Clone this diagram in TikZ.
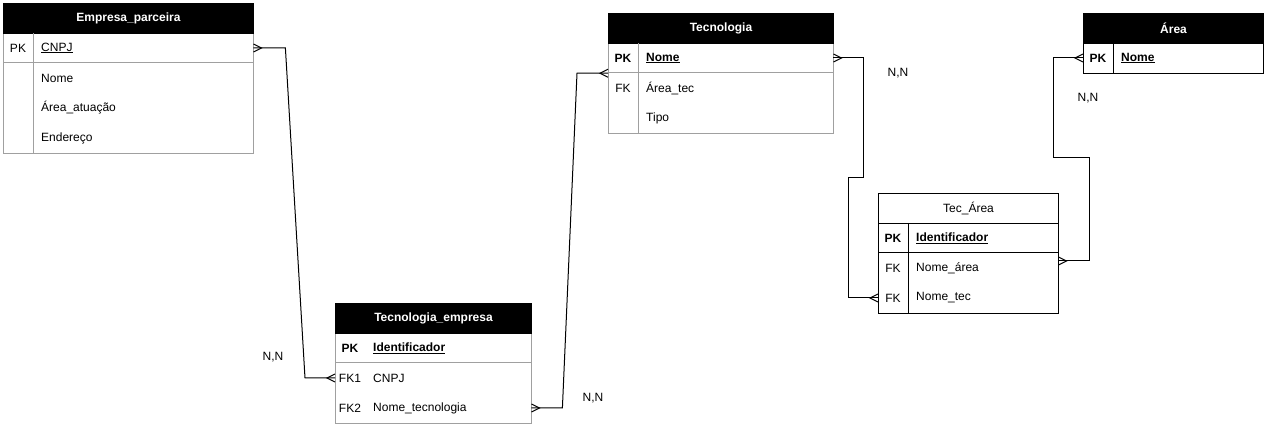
\documentclass[tikz,border=0pt]{standalone}
\usepackage{fontspec}
\setmainfont{Liberation Sans}
\usetikzlibrary{calc}
\definecolor{gridgray}{HTML}{A0A0A0}
\pgfdeclarearrow{
  name=Crow,
  setup code={
    \pgfarrowssettipend{0pt}
    \pgfarrowssetlineend{0pt}
    \pgfarrowssetbackend{-8pt}
    \pgfarrowsupperhullpoint{0pt}{4pt}
    \pgfarrowsupperhullpoint{-8pt}{0pt}
  },
  drawing code={
    \pgfsetdash{}{0pt}
    \pgfpathmoveto{\pgfqpoint{0pt}{4pt}}
    \pgfpathlineto{\pgfqpoint{-8pt}{0pt}}
    \pgfpathlineto{\pgfqpoint{0pt}{-4pt}}
    \pgfusepathqstroke
  }
}
\begin{document}
\begin{tikzpicture}[x=1pt,y=-1pt,
  fnt/.style={font=\fontsize{12}{14}\selectfont},
  hdr/.style={fill=black, draw=black, line width=1pt, text=white, font=\fontsize{12}{14}\selectfont\bfseries, minimum height=30pt, inner sep=0pt, anchor=north west},
  whdr/.style={draw=black, line width=1pt, text=black, font=\fontsize{12}{14}\selectfont, minimum height=30pt, inner sep=0pt, anchor=north west},
  tbox/.style={draw=gridgray, line width=1pt, anchor=north west, inner sep=0pt},
  kbox/.style={draw=black, line width=1pt, anchor=north west, inner sep=0pt},
  rowbox/.style={inner sep=0pt, minimum height=30pt, anchor=west},
  keyt/.style={fnt, inner sep=0pt},
  fld/.style={fnt, inner sep=0pt, anchor=west},
  sep/.style={draw=gridgray, line width=1pt},
  ksep/.style={draw=black, line width=1pt},
  conn/.style={draw=black, line width=1pt, Crow-Crow},
  nn/.style={fnt, inner sep=0pt}]
\useasboundingbox (0,0) rectangle (1267,427);

% Empresa_parceira
\node[tbox, minimum width=250pt, minimum height=150pt] (ep) at (3,3) {};
\node[hdr, minimum width=250pt] (eph) at (3,3) {Empresa\_parceira};
\node[rowbox, minimum width=250pt] (ep1) at (3,48) {};
\draw[sep] (3,63) -- (253,63);
\draw[sep] (33,33) -- (33,153);
\node[keyt] (epk) at (18,48) {PK};
\node[fld] (epf1) at (41,48) {\underline{CNPJ}};
\node[fld] (epf2) at (41,78) {Nome};
\node[fld] (epf3) at (41,108) {Área\_atuação};
\node[fld] (epf4) at (41,138) {Endereço};

% Tecnologia
\node[tbox, minimum width=225pt, minimum height=120pt] (tc) at (608,13) {};
\node[hdr, minimum width=225pt] (tch) at (608,13) {Tecnologia};
\node[rowbox, minimum width=225pt] (tc1) at (608,58) {};
\node[rowbox, minimum width=225pt] (tc2) at (608,88) {};
\draw[sep] (608,73) -- (833,73);
\draw[sep] (638,43) -- (638,133);
\node[keyt, font=\fontsize{12}{14}\selectfont\bfseries] (tck1) at (623,58) {PK};
\node[keyt] (tck2) at (623,88) {FK};
\node[fld, font=\fontsize{12}{14}\selectfont\bfseries] (tcf1) at (646,58) {\underline{Nome}};
\node[fld] (tcf2) at (646,88) {Área\_tec};
\node[fld] (tcf3) at (646,118) {Tipo};

% Area
\node[kbox, minimum width=180pt, minimum height=60pt] (ar) at (1083,13) {};
\node[hdr, minimum width=180pt] (arh) at (1083,13) {Área};
\node[rowbox, minimum width=180pt] (ar1) at (1083,58) {};
\draw[ksep] (1113,43) -- (1113,73);
\node[keyt, font=\fontsize{12}{14}\selectfont\bfseries] (ark) at (1098,58) {PK};
\node[fld, font=\fontsize{12}{14}\selectfont\bfseries] (arf) at (1121,58) {\underline{Nome}};

% Tec_Area
\node[kbox, minimum width=180pt, minimum height=120pt] (ta) at (878,193) {};
\node[whdr, minimum width=180pt] (tah) at (878,193) {Tec\_Área};
\node[rowbox, minimum width=180pt] (ta1) at (878,238) {};
\node[rowbox, minimum width=180pt] (ta2) at (878,268) {};
\node[rowbox, minimum width=180pt] (ta3) at (878,298) {};
\draw[ksep] (878,253) -- (1058,253);
\draw[ksep] (908,223) -- (908,313);
\node[keyt, font=\fontsize{12}{14}\selectfont\bfseries] (tak1) at (893,238) {PK};
\node[keyt] (tak2) at (893,268) {FK};
\node[keyt] (tak3) at (893,298) {FK};
\node[fld, font=\fontsize{12}{14}\selectfont\bfseries] (taf1) at (916,238) {\underline{Identificador}};
\node[fld] (taf2) at (916,268) {Nome\_área};
\node[fld] (taf3) at (916,298) {Nome\_tec};

% Tecnologia_empresa
\node[tbox, minimum width=196pt, minimum height=120pt] (te) at (335,303) {};
\node[hdr, minimum width=196pt] (teh) at (335,303) {Tecnologia\_empresa};
\node[rowbox, minimum width=196pt] (te1) at (335,348) {};
\node[rowbox, minimum width=196pt] (te2) at (335,378) {};
\node[rowbox, minimum width=196pt] (te3) at (335,408) {};
\draw[sep] (335,363) -- (531,363);
\node[keyt, font=\fontsize{12}{14}\selectfont\bfseries] (tek1) at (350,348) {PK};
\node[keyt] (tek2) at (350,378) {FK1};
\node[keyt] (tek3) at (350,408) {FK2};
\node[fld, font=\fontsize{12}{14}\selectfont\bfseries] (tef1) at (373,348) {\underline{Identificador}};
\node[fld] (tef2) at (373,378) {CNPJ};
\node[fld] (tef3) at (373,408) {Nome\_tecnologia};

% connectors
\draw[conn] (ep1.east) -- ++(32,0) -- ([xshift=-30pt]te2.west) -- (te2.west);
\draw[conn] (te3.east) -- ++(31,0) -- ([xshift=-31pt]tc1.south west) -- (tc1.south west);
\draw[conn] (tc1.east) -- ++(30,0) -- ++(0,120) -- ++(-15,0) |- (ta3.west);
\draw[conn] ([yshift=7pt]ta2.east) -- ++(31,0) -- ++(0,-103) -- ++(-36,0) |- (ar1.west);

% labels
\node[nn] (l1) at (898,73) {N,N};
\node[nn] (l2) at (1088,98) {N,N};
\node[nn] (l3) at (273,357) {N,N};
\node[nn] (l4) at (593,398) {N,N};
\end{tikzpicture}
\end{document}
